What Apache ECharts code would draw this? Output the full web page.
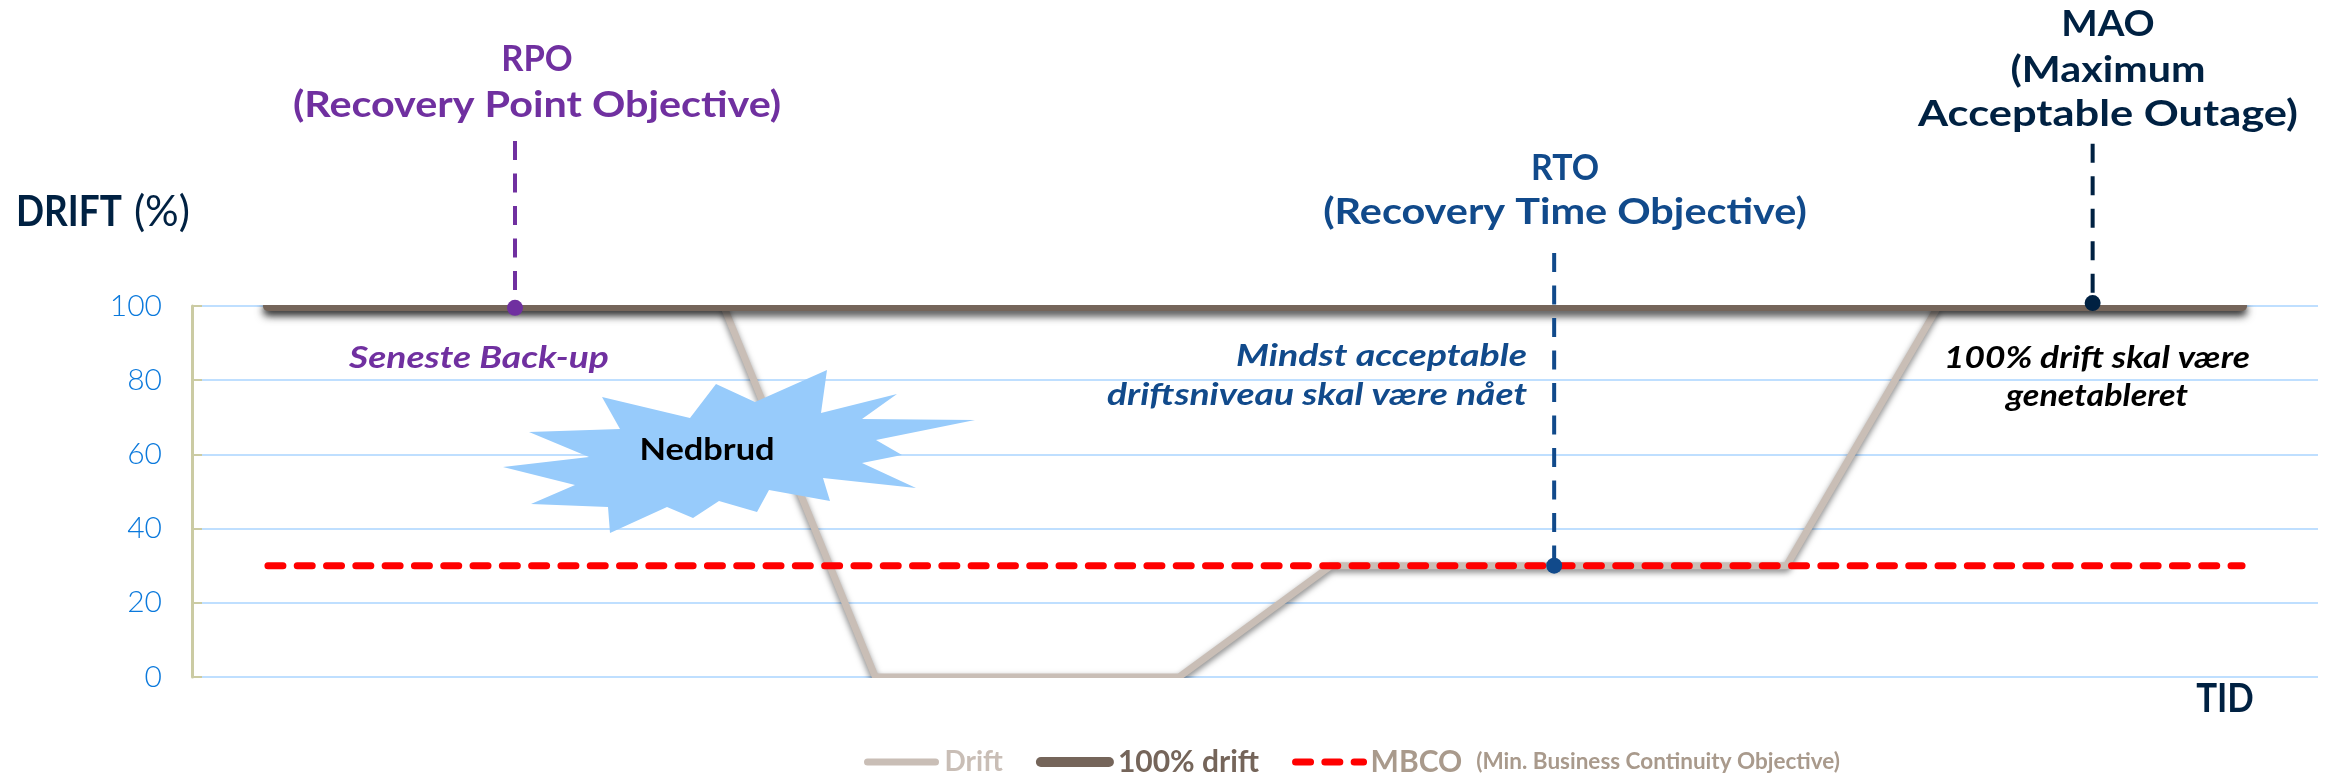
<!DOCTYPE html>
<html>
<head>
<meta charset="utf-8">
<style>html,body{margin:0;padding:0;background:#fff}#c{width:2325px;height:777px}</style>
<script src="https://cdn.jsdelivr.net/npm/echarts@6/dist/echarts.min.js"></script>
</head>
<body>
<div id="c"></div>
<script>
// Time steps along the horizontal axis (no units, only the shape of the outage matters)
const timeSteps = ['t1','t2','t3','t4','t5','t6','t7','t8','t9','t10','t11','t12','t13','t14'];
const driftValues = [100,100,100,100,0,0,0,30,30,30,30,100,100,100];
const fullDriftValues = [100,100,100,100,100,100,100,100,100,100,100,100,100,100];
const mbcoValues = [30,30,30,30,30,30,30,30,30,30,30,30,30,30];
const yTicks = [0,20,40,60,80,100];

// Objective markers: position in time-step units, level reached, top of the leader
const rpoMarker = {name:'RPO', x:2.127, level:99.5, top:144.5, color:'#7030A0'};
const rtoMarker = {name:'RTO', x:8.97,  level:30,  top:114.3, color:'#114A8B'};
const maoMarker = {name:'MAO', x:12.516,level:100.8,top:143.7, color:'#002142'};
const markers = [rpoMarker, rtoMarker, maoMarker];

const FONT = 'Lato';
const NAVY = '#002142', PURPLE = '#7030A0', BLUE = '#114A8B';

// Free-standing captions: text, x, y, size, weight, style, colour, align, horizontal stretch
const captions = [
  ['RPO',537,59,36,'bold','normal',PURPLE,'center',0.96],
  ['(Recovery Point Objective)',537,105,36,'bold','normal',PURPLE,'center',1.148],
  ['RTO',1565,168,36,'bold','normal',BLUE,'center',0.94],
  ['(Recovery Time Objective)',1565,212,36,'bold','normal',BLUE,'center',1.15],
  ['MAO',2108,24,36,'bold','normal',NAVY,'center',1.07],
  ['(Maximum',2108,70,36,'bold','normal',NAVY,'center',1.145],
  ['Acceptable Outage)',2108,114,36,'bold','normal',NAVY,'center',1.207],
  ['DRIFT',16,212,42,'bold','normal',NAVY,'left',0.88],
  ['(%)',190,212,42,'normal','normal',NAVY,'right',1],
  ['Seneste Back-up',479,358,31,'bold','italic',PURPLE,'center',1.2],
  ['Mindst acceptable',1527,356,31,'bold','italic',BLUE,'right',1.21],
  ['driftsniveau skal være nået',1527,395,31,'bold','italic',BLUE,'right',1.2],
  ['100% drift skal være',2097,358,31,'bold','italic','#000','center',1.14],
  ['genetableret',2097,396,31,'bold','italic','#000','center',1.1],
  ['TID',2225,699,41,'bold','normal',NAVY,'center',0.85],
  ['Nedbrud',707,450,31,'bold','normal','#000','center',1.11]
];

// Outline of the outage burst
const burstOutline = [[602,397],[690,418],[716,384],[755,402],[827,370],[821,413],[897,394],[862,419],
  [975,420],[876,440],[902,455],[862,463],[916,488],[823,478],[830,501],[769,490],[757,512],[719,501],
  [693,518],[667,507],[610,533],[608,507],[531,504],[575,485],[503,467],[589,457],[529,432],[620,429]];

const chart = echarts.init(document.getElementById('c'), null, {renderer:'canvas'});

const leaderSeries = markers.map(m => ({
  type:'line', name:m.name+' leader', xAxisIndex:1, yAxisIndex:0, z:6, clip:false, symbol:'none',
  silent:true, animation:false,
  data:[[m.x,m.top],[m.x,m.level]],
  lineStyle:{color:m.color,width:4,type:[19,13.5],cap:'butt'}
}));
const dotSeries = markers.map(m => ({
  type:'scatter', name:m.name+' point', xAxisIndex:1, yAxisIndex:0, z:7, clip:false, symbolSize:16,
  silent:true, animation:false,
  data:[[m.x,m.level]], itemStyle:{color:m.color,opacity:1}
}));

chart.setOption({
  backgroundColor:'#fff',
  animation:false,
  grid:{left:192,right:7,top:306,bottom:100,containLabel:false},
  xAxis:[
    {type:'category',data:timeSteps,boundaryGap:true,axisLine:{show:false},axisTick:{show:false},axisLabel:{show:false},splitLine:{show:false}},
    {type:'value',min:0,max:14,show:false,splitLine:{show:false}}
  ],
  yAxis:{
    type:'value',min:0,max:100,interval:yTicks[1]-yTicks[0],
    axisLine:{show:true,lineStyle:{color:'#CBCBA3',width:3}},
    axisTick:{show:true,inside:true,length:10,lineStyle:{color:'#CBCBA3',width:2}},
    axisLabel:{color:'#0B79DC',fontFamily:FONT,fontSize:30,fontWeight:300,margin:30},
    splitLine:{show:true,lineStyle:{color:'#BFDFFF',width:2}}
  },
  legend:{
    left:864,top:747,padding:0,itemWidth:68,itemHeight:8,itemGap:33,
    data:[
      {name:'Drift',textStyle:{color:'#C9BEB6',fontSize:28,padding:[0,0,0,4]}},
      {name:'100% drift',textStyle:{color:'#75655A',padding:[0,6,0,4]}},
      {name:'MBCO',textStyle:{color:'#A99A8C',padding:[0,0,0,2]}}
    ],
    itemStyle:{opacity:0},
    lineStyle:{width:'inherit',shadowBlur:0,shadowOffsetY:0,shadowColor:'transparent'},
    textStyle:{fontFamily:FONT,fontSize:30,fontWeight:'bold',
      rich:{main:{fontFamily:FONT,fontSize:30,fontWeight:'bold',color:'#A99A8C'},
            note:{fontFamily:FONT,fontSize:22.5,fontWeight:'bold',color:'#A99A8C',padding:[0,0,0,14]}}},
    formatter:n => n==='MBCO' ? '{main|MBCO}{note|(Min. Business Continuity Objective)}' : n
  },
  series:[
    {type:'line',name:'Drift',data:driftValues,z:2,symbol:'none',
      lineStyle:{color:'#C9BEB6',width:7,cap:'round',join:'round',shadowColor:'rgba(0,0,0,0.5)',shadowBlur:6,shadowOffsetY:3}},
    {type:'line',name:'100% drift',data:fullDriftValues,z:2.2,symbol:'none',
      lineStyle:{color:'#75655A',width:10,cap:'round',join:'round',shadowColor:'rgba(0,0,0,0.75)',shadowBlur:8,shadowOffsetY:5}},
    {type:'line',name:'MBCO',data:mbcoValues,z:5,symbol:'none',
      lineStyle:{color:'#FF0000',width:7,type:[15,14.3],cap:'round'}},
    ...leaderSeries,
    ...dotSeries
  ],
  graphic:[
    // The plot area cuts the heavy lines off at its top and bottom edges
    {type:'rect',z:3,silent:true,shape:{x:240,y:285,width:2040,height:20},style:{fill:'#fff'}},
    {type:'rect',z:3,silent:true,shape:{x:850,y:678,width:360,height:14},style:{fill:'#fff'}},
    {type:'polygon',z:4,silent:true,shape:{points:burstOutline},style:{fill:'#97CBFB'}},
    ...captions.map(([text,x,y,size,weight,style,fill,align,stretch]) => ({
      type:'text',z:8,silent:true,x,y,scaleX:stretch,
      style:{text,font:`${style} ${weight} ${size}px ${FONT}`,fill,textAlign:align,textVerticalAlign:'middle'}
    }))
  ]
});
</script>
</body>
</html>
